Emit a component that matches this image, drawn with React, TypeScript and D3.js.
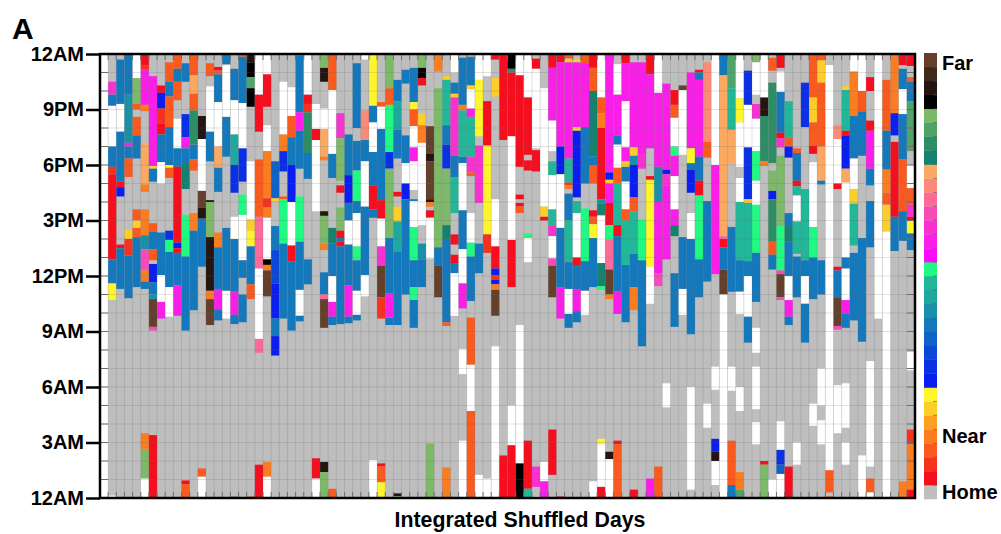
import * as d3 from "d3";
import { useEffect, useRef } from "react";

// one day = list of [state, fromHour, toHour]; anything not listed is state 0 (home)
type Segment = [number, number, number];

const W = -1; // no data, drawn white

// colour bar bins, bottom to top
const stateColors = [
  "#bebebe", "#f50f1e", "#f5321e", "#fa5a1e", "#fb7d20", "#fba020", "#fdcd2a", "#fff52d",
  "#0a1ef0", "#0a30e6", "#0c48d8", "#0f62c8", "#1478bc", "#1a90a8", "#1ea8a0", "#20b898",
  "#20fa82", "#fa0cff", "#fa1ee8", "#f832d0", "#f84ab8", "#fc6a9a", "#fb8a78", "#fba860",
  "#14826e", "#2d8e66", "#50a46a", "#7dba68", "#000000", "#241510", "#40281a", "#64402c",
];
// a few codes used in the day lists share a bin
const binOfCode = new Map<number, number>([[3, 2], [4, 3], [5, 4], [30, 31]]);

const hourTicks = [0, 3, 6, 9, 12, 15, 18, 21, 24];
const hourLabels = ["12AM", "3AM", "6AM", "9AM", "12PM", "3PM", "6PM", "9PM", "12AM"];
const barLabels = ["Far", "Near", "Home"];

const days: Segment[][] = [
  [[W,0,24]],
  [[19,21.8,22.5],[12,21.2,21.8],[W,19,21.2],[12,17.9,19],[2,17.5,17.9],[1,12.9,17.5],[12,11.6,12.9],[7,10.7,11.6],[W,0,0.13]],
  [[12,21.3,23.7],[W,19.8,21.3],[12,17.1,19.8],[1,16.8,17.1],[8,16.3,16.8],[1,13.5,13.7],[12,11.3,13.5]],
  [[12,21.8,24],[13,19.2,21.8],[18,19,19.2],[12,18.35,19],[4,17.35,18.35],[6,14,14.5],[2,13.1,14],[12,10.8,13.1]],
  [[W,22.7,24],[27,21.3,22.7],[4,21,21.3],[4,19.6,20.6],[12,18.35,19.6],[4,15,15.6],[6,14.6,15],[4,14.1,14.6],[12,11.4,14.1]],
  [[1,23.4,24],[2,23.15,23.4],[18,21.25,23.15],[5,20.9,21.25],[23,16.95,19.2],[5,16.55,16.95],[5,14.2,15.6],[13,13.45,14.2],[20,12.3,13.45],[5,11.7,12.3],[12,11.3,11.7],[5,2.65,3.5],[27,1.05,2.65],[W,0,1.05]],
  [[18,17.95,22.8],[6,17.8,17.95],[12,17.1,17.8],[4,14.4,14.85],[12,13.45,14.4],[4,12.85,13.45],[8,11.65,12.65],[12,11,11.65],[13,10.75,11],[30,9.25,10.75],[20,9.05,9.25],[1,0,3.4]],
  [[1,21.9,22.3],[8,21.05,21.9],[3,20.25,21.05],[1,19.65,20.25],[12,18.15,19.65],[W,17,18.15],[12,12.05,14.35],[W,10.6,12.05],[18,9.7,10.6]],
  [[4,22.5,23.55],[12,21.7,22.5],[4,20.05,21.7],[12,18,20.05],[7,17.85,18],[4,17.3,17.85],[9,13.95,14.45],[16,13.3,13.95],[12,11.4,13.3],[W,9.8,11.4]],
  [[4,23.2,24],[12,22.5,23.2],[4,21.5,22.5],[W,18.9,20.5],[12,17.9,18.9],[1,13.8,17.9],[8,13.5,13.8],[1,13.25,13.5],[12,11.5,13.25],[18,9.85,11.5]],
  [[12,22.5,23.5],[9,19.5,20.75],[18,18.9,19.5],[12,18.05,18.9],[24,16.7,18.05],[16,13.05,15.3],[12,9.05,13.05],[1,0.75,0.95],[4,0,0.75]],
  [[4,22.85,24],[23,21.85,22.85],[4,20.95,21.85],[25,19.1,20.95],[12,18.3,19.1],[4,17.7,18.3],[5,14.45,15.4],[12,10.15,14.45]],
  [[29,19.4,20.65],[W,16.6,19.4],[30,15.7,16.6],[29,15.1,15.7],[12,12.5,15.1],[4,1.15,1.6],[W,0,1.15]],
  [[4,22.8,23.5],[W,19.8,22.25],[12,18.2,19.8],[29,16,16.1],[27,14.1,16],[29,11.2,14.1],[5,10.75,11.2],[30,9.35,10.75]],
  [[1,23.1,23.3],[4,22.9,23.1],[12,21.4,22.9],[W,19,21.4],[23,17.85,19],[12,16.55,17.85],[5,13.55,14.35],[12,11.3,13.55],[18,10.2,11.3],[12,9.6,10.2]],
  [[12,23.45,24],[W,20.6,23.4],[12,18.45,20.6],[12,11.2,14.6],[W,9.7,11.2]],
  [[12,21.5,23.2],[W,19.65,21.5],[14,18,19.65],[9,16.5,18],[W,14,15.2],[12,11.15,14],[18,9.9,11.15],[12,9.4,9.9],[12,0,0.07]],
  [[4,23.85,24],[12,21.35,23.85],[W,18.9,21.35],[9,17.1,18.9],[16,15.3,16.4],[W,12.85,15.3],[12,11.9,12.85],[12,9.5,11]],
  [[29,23.55,24],[28,22.75,23.55],[26,22.15,22.75],[28,21.15,22.15],[W,15.05,18.2],[6,14.45,15.05],[7,13.6,14.45],[12,11.55,13.6],[4,10.75,11.55],[4,0,0.08]],
  [[W,21.8,24],[1,19.8,21.8],[4,15.2,18.3],[21,12.4,15.2],[W,8.6,12.4],[21,7.85,8.6],[1,0,1.8]],
  [[W,22.9,24],[1,21.15,22.9],[W,18.75,20.15],[5,16.2,18.75],[3,15.7,16.2],[5,15.15,15.7],[W,12.9,15.15],[28,12.6,12.9],[5,12.3,12.6],[30,10.9,12.3],[5,1.15,1.95],[W,0,1.15]],
  [[11,16.2,18.2],[6,16.05,16.2],[12,13.4,14.7],[10,11.6,13.4],[8,9.7,11.6],[12,8.75,9.7],[8,7.7,8.75],[W,0,0.07]],
  [[W,19.65,22.5],[5,18.75,19.65],[9,17.65,18.75],[4,16.15,16.3],[16,13.75,16.15],[12,9.7,13.75]],
  [[W,20.65,22.2],[4,19.5,20.65],[12,18,19.5],[8,16,18],[W,13.65,16],[1,12.8,13.65],[12,9.05,12.8]],
  [[4,23.9,24],[12,20.85,23.9],[18,19.85,20.85],[12,17.8,19.85],[16,13.85,16.3],[12,11.25,13.85],[W,9.85,11.25],[12,9.55,9.85]],
  [[W,21.8,24],[1,21.3,21.8],[2,20.85,21.3],[25,18.65,20.85],[12,17.25,18.65],[12,11.55,12.9]],
  [[W,19.95,21.3],[1,19.35,19.95],[W,15.5,19.35],[1,1.05,2.15],[W,0,1.05]],
  [[27,23.25,24],[29,22.5,23.25],[W,19.95,21.05],[23,18.45,19.95],[5,18.25,18.45],[29,15.25,15.5],[27,13.75,15.25],[5,13.4,13.75],[12,11,12.2],[21,10.75,11],[30,9.2,10.75],[29,1.4,1.95],[27,0,1.4]],
  [[4,22.05,24],[W,18.6,22.05],[12,17.3,18.6],[24,13.75,14.6],[12,12,13.75],[W,10.6,12],[18,9.8,10.6],[12,9.35,9.8],[4,0,0.5]],
  [[19,19.45,20.8],[27,17.15,19.45],[1,16.5,16.9],[27,14.45,15.7],[1,14.05,14.45],[12,13.85,14.05],[1,13.6,13.85],[12,9.4,13.6]],
  [[12,17.45,19.65],[8,15.95,17.45],[12,15,15.95],[W,13.7,15],[12,11.5,13.7],[18,9.8,11.5],[12,9.45,9.8]],
  [[12,20,23.5],[12,17.7,19.3],[16,16.05,17.7],[12,15.4,16.05],[W,13.6,15.4],[16,12.85,13.6],[12,11.2,12.85],[W,9.9,11.2],[12,9.6,9.9]],
  [[W,23.7,24],[22,19.35,20.95],[12,18.2,19.35],[W,15.75,18.2],[12,12.05,15.75],[W,10.9,12.05]],
  [[7,21.2,24],[12,20.3,21.2],[W,18.7,20.3],[12,16.9,18.7],[1,15.6,16.9],[12,15.15,15.6],[W,0,2.05]],
  [[4,21.15,21.4],[W,19.95,21.15],[12,16.1,19.95],[1,15.1,16.1],[W,13.6,15.1],[19,12.55,13.6],[30,10.85,12.55],[2,9.7,10.85],[1,1.7,1.87],[4,0.85,1.7],[7,0,0.85]],
  [[27,22.15,24],[4,21.25,22.15],[16,18.7,21.25],[9,17.8,18.7],[27,14.05,17.8],[12,11.05,14.05],[18,9.75,11.05],[12,9.35,9.75]],
  [[12,21.45,22.6],[14,19.9,21.45],[12,18.35,19.9],[1,16.3,16.55],[6,14.95,15.75],[14,13.3,14.95],[12,9.35,13.3],[29,0.1,0.25],[27,0,0.1]],
  [[12,22.4,23.15],[12,18.1,19.6],[W,17,18.1],[8,16.15,17],[12,11,16.15]],
  [[12,21.4,23.25],[7,21,21.4],[4,20.1,21],[W,18.95,20.1],[18,18.2,18.95],[W,16.65,18.2],[12,16.05,16.15],[W,14.65,16.05],[16,12.85,14.65],[12,11.4,12.85],[16,10.7,11.4],[12,9.2,10.7]],
  [[27,23.25,24],[28,22.7,23.25],[1,22.3,22.7],[6,20.15,20.8],[5,19.2,20.15],[W,14.75,19.2],[13,12.9,13.75],[12,11.4,12.9]],
  [[30,18.6,20.1],[29,18.2,18.6],[30,16.15,18.2],[29,16,16.15],[5,15.75,16],[1,15.15,15.55],[W,12.95,15.15],[27,0,2.95]],
  [[5,23.05,24],[27,13.55,22.15],[12,12.55,13.55],[30,10.85,12.55]],
  [[6,22.6,22.8],[15,20.15,22.6],[12,19.1,20.15],[9,17.8,19.1],[27,14.75,17.8],[24,13.95,14.75],[12,9.5,13.95],[4,9.3,9.5],[5,0,1.65]],
  [[W,23,24],[12,21.85,22.45],[6,21.65,21.85],[19,18.5,21.65],[12,17.35,18.5],[15,15.4,17.35],[1,13.7,14.25],[1,12.7,13.15],[12,12.15,12.7],[W,9.85,12.15]],
  [[12,21.25,23.8],[5,20.95,21.25],[15,18.45,20.95],[12,18.1,18.45],[W,15.55,18.1],[12,13.45,15.55],[W,11.6,13.45],[18,10.25,11.6],[W,6.7,8.05],[W,0,3.1]],
  [[12,22.3,23.85],[6,22.1,22.3],[W,21.05,22.1],[18,20.6,21.05],[15,18.45,20.6],[19,17.6,18.45],[4,17.4,17.6],[W,13.8,15.4],[16,13.05,13.8],[12,10.65,13.05],[4,7.2,9.75],[W,4.7,7.2],[4,0,4.7]],
  [[W,22.6,24],[7,19.55,22.6],[19,15.95,19.05],[12,12.15,13.75],[W,0,1.25]],
  [[W,22.8,24],[1,19.05,21.45],[7,14.25,19.05],[2,13.25,14.25],[W,0,1.05]],
  [[1,23.7,24],[6,21.7,22.7],[W,13.6,16.15],[1,12.4,13.6],[8,12.05,12.4],[2,11.8,12.05],[8,11.55,11.8],[5,11.25,11.55],[30,9.85,11.25],[W,0,8.2]],
  [[1,19.35,24],[1,0,2.3]],
  [[28,23.2,24],[25,23,23.2],[1,19.55,23],[W,13.95,19.55],[1,11.4,13.95],[W,2.85,5],[1,0,2.85]],
  [[W,22.85,24],[1,17.9,22.85],[1,16.15,16.4],[1,15.75,15.95],[4,15.4,15.75],[W,1.87,9.35],[28,0,1.87]],
  [[W,21.65,24],[1,18.55,21.65],[1,17.7,18.25],[16,14.05,14.3],[W,12.75,14.05],[1,0.5,3.1],[15,0,0.5]],
  [[1,23.2,23.75],[W,18.9,23.2],[1,17.65,18.8],[19,0.6,1.7],[W,0,0.08]],
  [[W,15.75,22.15],[6,15.2,15.75],[1,15,15.2],[W,0.9,1.95],[18,0,0.9]],
  [[1,23.25,24],[18,20.4,23.25],[W,18.75,20.4],[15,17.45,18.2],[W,15.6,17.45],[15,14.75,15.6],[19,14.15,14.75],[W,12.95,14.15],[20,12.55,12.95],[30,10.85,12.55],[1,1.25,3.7]],
  [[1,23.55,24],[18,19,23.55],[8,17.5,19],[W,14.6,17.5],[12,11.4,14.6],[18,9.7,11.4],[1,0,0.08]],
  [[4,23.75,24],[6,23.55,23.75],[18,18.35,23.55],[15,17.05,18.35],[2,16.9,17.05],[5,16.7,16.9],[12,15,16.45],[15,12.75,15],[12,11.3,12.75],[W,9.95,11.3],[12,9.2,9.95]],
  [[6,23.55,23.75],[18,20.05,23.55],[6,19.85,20.05],[8,16.25,19.85],[15,15.4,16.05],[W,13,15.4],[1,12.55,13],[12,11.3,12.55],[18,10.1,11.3],[12,9.5,10.1]],
  [[4,23.5,24],[18,20.05,23.5],[12,17,20.05],[16,12.8,15.65],[12,11.2,12.8],[W,9.9,11.2]],
  [[1,23.25,24],[4,22,23.25],[24,18.45,22],[12,18,18.45],[4,17,18],[1,15.2,15.55],[4,14.8,15.2],[7,14.05,14.8],[12,11.4,14.05],[W,0,0.9]],
  [[W,21.65,24],[4,20.8,21.65],[5,20,20.8],[1,16.15,20],[13,15.9,16.15],[24,15.3,15.9],[W,12.7,15.25],[24,11.45,12.7],[16,11.25,11.45],[7,2.9,3.2],[W,0.6,2.9],[1,0,0.6]],
  [[18,17.6,24],[8,17.2,17.6],[6,17,17.2],[18,15.95,17],[1,14.75,15.95],[16,13.95,14.75],[21,12.35,13.95],[30,11,12.35],[5,10.75,11],[29,2.1,2.5],[W,0,2.1]],
  [[W,21.8,23.45],[18,19.6,21.8],[12,19.1,19.6],[W,17.85,19.1],[4,17,17.85],[15,14.75,17],[1,14.15,14.75],[12,11.15,14.15],[18,9.95,11.15],[1,2.9,3.1],[4,0,2.9]],
  [[1,23.5,24],[18,21.45,23.5],[W,18.95,21.45],[18,18.2,18.95],[6,17.9,18.2],[12,17.1,17.9],[W,15.6,17.1],[4,15,15.6],[15,12.6,15],[12,9.5,12.6]],
  [[18,18.95,23.55],[6,18.5,18.95],[13,18,18.5],[8,16.25,18],[4,15.5,16.25],[15,13.2,15.5],[12,11.4,13.2],[5,10.15,11.4],[1,0,0.45]],
  [[18,18.6,23.55],[19,17.8,18.6],[16,12.85,15.05],[12,8.2,12.85]],
  [[1,22.9,24],[18,18.9,22.9],[1,17.2,17.4],[7,12.5,17.2],[W,10.5,12.5],[18,0,1.05]],
  [[W,21.9,24],[18,17.9,21.9],[13,16,17.9],[18,12.15,16],[20,11.45,12.15],[4,0,1.7]],
  [[18,17.75,22.4],[8,17.5,17.75],[19,16.9,17.5],[18,12.9,16.9],[W,4.9,6.2]],
  [[1,21.25,22.05],[4,20.55,21.25],[W,19,20.55],[16,18.5,19],[18,17.4,18.5],[W,15.6,17.4],[18,14.75,15.6],[24,14.15,14.75],[12,9.25,12.15]],
  [[30,22.05,22.3],[W,18.55,22.05],[12,11.3,14.1],[W,9.9,11.3]],
  [[18,18.9,23],[7,18.1,18.9],[12,17.75,18.1],[8,16.5,17.75],[W,14,15.4],[12,8.85,14],[W,0.45,6]],
  [[1,23,23.15],[12,22.6,23],[18,18.45,22.6],[12,17.15,18.45],[1,16.35,17.15],[16,12.9,16.35],[12,10.85,12.9]],
  [[22,19.25,23.55],[4,18.4,19.25],[12,11.7,16.05],[W,3.8,5.1]],
  [[W,18,24],[18,12.1,18],[W,5.85,7.1],[8,2.5,3.2],[29,2,2.5],[W,0.7,2]],
  [[12,22.85,24],[23,14.15,22.85],[21,14,14.15],[1,13.55,14],[12,12.35,13.55],[30,11,12.35],[W,0,11]],
  [[26,22.15,24],[15,19.9,22.15],[23,18.1,19.9],[12,11.15,14.65],[W,5.8,7.1],[4,0.7,3.1],[12,0,0.7]],
  [[W,21.6,24],[7,20.3,21.6],[W,17.9,20.3],[W,16,17.3],[15,12.85,16],[12,11.15,12.85],[W,9.95,11.15],[W,4.7,6],[5,0.45,1.4],[26,0,0.45]],
  [[9,21.25,23.1],[W,18.95,21.25],[9,16.15,18.95],[6,15.95,16.15],[15,12.8,15.95],[12,12,12.8],[W,9.8,12],[12,8.4,9.8]],
  [[27,23.55,24],[W,21.8,23.55],[19,20.5,21.3],[W,18.75,20.5],[16,17.15,18.75],[W,15.85,17.15],[16,13.25,15.85],[12,10.6,13.25],[W,7.85,9.2],[W,4.8,7.1],[W,2.9,4.1]],
  [[W,21.65,24],[29,20.65,21.65],[25,18.2,20.65],[5,17.95,18.2],[1,1.8,2],[27,0,1.8]],
  [[4,23.1,23.8],[25,18.1,22.45],[27,16.6,17.7],[8,16.15,16.6],[25,13.85,16.15],[4,13.15,13.85],[12,12.35,13.15],[W,0,1]],
  [[1,23.25,24],[W,21.95,23.05],[12,19.75,21.95],[1,19.45,19.75],[19,18.95,19.45],[27,14.7,18.5],[16,12.3,14.7],[20,12.1,12.3],[30,10.85,12.1],[20,10.7,10.85],[W,2.6,4.15],[9,1.8,2.6],[11,1.3,1.8],[W,0,1.3]],
  [[15,19.5,21.45],[4,19,19.5],[8,18.4,19],[12,14.7,15.4],[24,13.85,14.7],[12,12,13.85],[W,10.7,12],[18,9.8,10.7],[12,9.35,9.8],[1,0,1.7]],
  [[4,18.65,18.9],[12,17.15,18.65],[1,16.85,17.15],[15,16.35,16.85],[W,14.95,16.35],[15,13.2,14.95],[12,10.85,13.05],[W,1.8,3]],
  [[9,20.05,22.45],[15,12.85,16.7],[12,12,12.85],[W,10.5,12],[12,8.4,10.5]],
  [[4,21.65,24],[6,20.3,21.65],[4,19.05,20.3],[1,18.6,19.05],[W,14.65,18.15],[16,13,14.65],[12,10.75,13],[W,3.9,5.1]],
  [[4,23.65,24],[6,22.45,23.65],[4,19,22.45],[23,17.15,19],[12,16.95,17.15],[12,11,12.85],[W,5,7],[W,2.9,4.2]],
  [[W,1.5,23.4],[4,0.3,1.5],[4,0,0.08]],
  [[22,19.4,20.15],[W,17,19.4],[1,16.7,17],[1,12.3,12.5],[12,10.85,12.3],[30,9.3,10.85],[20,9.1,9.3],[W,3.5,6.1]],
  [[6,22.05,22.25],[15,19.85,22.05],[1,19.6,19.85],[8,17.8,19.6],[23,17.05,17.8],[W,13,17.05],[12,12.4,13],[W,10.7,12.4],[18,9.95,10.7],[12,9.2,9.95],[W,3.8,6.2],[W,1.8,3]],
  [[W,23.05,24],[5,20.65,23.05],[12,18.35,20.65],[W,16.7,18.35],[6,15.95,16.7],[15,13.65,15.9],[12,9.6,13.25]],
  [[W,22,24],[4,20.9,22],[12,18.5,20.9],[12,8.45,14.05],[W,0,2.3]],
  [[1,22,22.75],[1,19.85,20.4],[18,17.8,19.85],[12,16.9,17.8],[12,13.55,16.05],[W,1.7,7.4],[4,0.3,1.05],[W,0,0.3]],
  [[W,9.7,24]],
  [[4,19.85,22.6],[12,17.75,19.85],[5,16.5,17.75],[4,15.85,16.5],[6,14.4,15.85],[W,0,14.4]],
  [[5,20.8,24],[8,19.6,20.8],[1,15.2,19.25],[12,13.35,15.2]],
  [[1,23.4,24],[12,22.1,23.2],[W,20.75,22.1],[12,18.3,20.75],[4,15.5,18.3],[12,13.9,15.5],[5,0,0.9]],
  [[1,23.35,24],[4,22.5,22.75],[12,21.45,22.5],[26,18.75,21.45],[W,16.75,18],[4,15.85,16.75],[19,15.2,15.85],[1,15,15.2],[7,14.3,15],[12,13.4,14.3],[W,6.9,7.9],[2,2.9,3.7],[5,0.45,2.9],[1,0,0.45]],
];

export default function App() {
  const svgRef = useRef<SVGSVGElement | null>(null);

  useEffect(() => {
    if (!svgRef.current) return;
    const svg = d3.select(svgRef.current);
    svg.selectAll("*").remove();

    const left = 100, right = 915, top = 54, bottom = 498;
    const font = "'Liberation Sans', Arial, sans-serif";

    const x = d3.scaleBand<number>().domain(d3.range(days.length)).range([left, right]);
    const y = d3.scaleLinear().domain([0, 24]).range([bottom, top]);
    const fill = (code: number) =>
      code === W ? "#ffffff" : stateColors[binOfCode.get(code) ?? code];

    // === celdas ===
    svg.append("rect").attr("x", left).attr("y", top)
      .attr("width", right - left).attr("height", bottom - top).attr("fill", stateColors[0]);

    days.forEach((segments, i) => {
      svg.append("g").selectAll("rect").data(segments).enter().append("rect")
        .attr("x", x(i)!)
        .attr("width", x.bandwidth())
        .attr("y", (d) => y(d[2]))
        .attr("height", (d) => y(d[1]) - y(d[2]))
        .attr("fill", (d) => fill(d[0]));
    });

    // === rejilla ===
    const grid = svg.append("g").attr("stroke", "#6a6a6a").attr("stroke-opacity", 0.2);
    d3.range(1, days.length).forEach((i) => {
      grid.append("line").attr("x1", x(i)!).attr("x2", x(i)!).attr("y1", top).attr("y2", bottom);
    });
    d3.range(1, 24).forEach((h) => {
      grid.append("line").attr("x1", left).attr("x2", right).attr("y1", y(h)).attr("y2", y(h));
    });

    // small inner ticks along the frame
    const ticks = svg.append("g").attr("stroke", "#6e6e6e").attr("stroke-width", 1);
    d3.range(1, days.length).forEach((i) => {
      ticks.append("line").attr("x1", x(i)!).attr("x2", x(i)!).attr("y1", bottom - 6).attr("y2", bottom);
      ticks.append("line").attr("x1", x(i)!).attr("x2", x(i)!).attr("y1", top).attr("y2", top + 6);
    });
    d3.range(1, 24).forEach((h) => {
      ticks.append("line").attr("x1", left).attr("x2", left + 8).attr("y1", y(h)).attr("y2", y(h));
      ticks.append("line").attr("x1", right - 8).attr("x2", right).attr("y1", y(h)).attr("y2", y(h));
    });

    // === marco y ejes ===
    svg.append("rect").attr("x", left).attr("y", top)
      .attr("width", right - left).attr("height", bottom - top)
      .attr("fill", "none").attr("stroke", "#000").attr("stroke-width", 2.5);

    const yAxis = svg.append("g").attr("transform", `translate(${left},0)`).call(
      d3.axisLeft(y)
        .tickValues(hourTicks)
        .tickFormat((_, i) => hourLabels[i])
        .tickSize(14)
        .tickPadding(2)
    );
    yAxis.select(".domain").remove();
    yAxis.selectAll("line").attr("stroke", "#000").attr("stroke-width", 2.5);
    yAxis.selectAll("text")
      .attr("font-family", font).attr("font-size", 20).attr("font-weight", "bold").attr("fill", "#000");

    svg.append("text").attr("x", 520).attr("y", 527).attr("text-anchor", "middle")
      .attr("font-family", font).attr("font-size", 21.3).attr("font-weight", "bold")
      .text("Integrated Shuffled Days");
    svg.append("text").attr("x", 12).attr("y", 39)
      .attr("font-family", font).attr("font-size", 30).attr("font-weight", "bold").text("A");

    // === barra de color ===
    const bar = d3.scaleBand<number>().domain(d3.range(stateColors.length).reverse()).range([53, 499]);
    const barG = svg.append("g");
    barG.selectAll("rect").data(d3.range(stateColors.length)).enter().append("rect")
      .attr("x", 924).attr("width", 13)
      .attr("y", (d) => bar(d)!)
      .attr("height", bar.bandwidth() + 0.3)
      .attr("fill", (d) => stateColors[d]);
    barG.selectAll("line").data(d3.range(1, stateColors.length)).enter().append("line")
      .attr("x1", 933).attr("x2", 937)
      .attr("y1", (d) => bar(d)! + bar.bandwidth())
      .attr("y2", (d) => bar(d)! + bar.bandwidth())
      .attr("stroke", "#555").attr("stroke-opacity", 0.6);

    const barLabelY = [70, 443, 499];
    svg.append("g").selectAll("text").data(barLabels).enter().append("text")
      .attr("x", 942)
      .attr("y", (_, i) => barLabelY[i])
      .attr("font-family", font).attr("font-size", 20).attr("font-weight", "bold")
      .text((d) => d);
  }, []);

  return (
    <svg
      ref={svgRef}
      width={1001}
      height={534}
      viewBox="0 0 1001 534"
      style={{ position: "absolute", left: 0, top: 0, background: "#fff" }}
    />
  );
}
